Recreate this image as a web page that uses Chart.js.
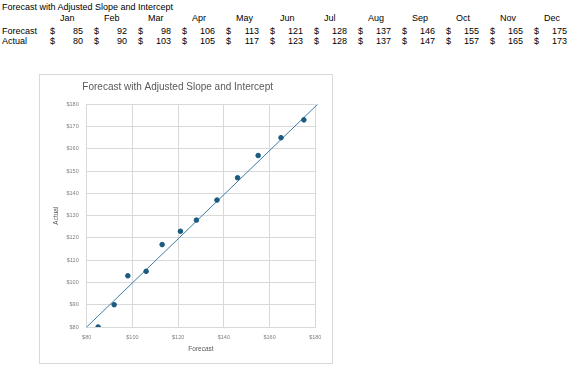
<!DOCTYPE html>
<html>
<head>
<meta charset="utf-8">
<script src="https://cdn.jsdelivr.net/npm/chart.js@4"></script>
<style>
  body { margin: 0; background: #fff; font-family: "Liberation Sans", Arial, sans-serif; }
  #sheet { position: absolute; left: 0; top: 0; width: 575px; height: 60px; font-size: 9px; color: #000; }
  #sheet span { position: absolute; line-height: 10px; white-space: nowrap; }
  #box { position: absolute; left: 39px; top: 74px; width: 292px; height: 288px; border: 1px solid #d9d9d9; }
</style>
</head>
<body>
<div id="sheet"></div>
<div id="box"><canvas id="chart" width="292" height="288"></canvas></div>
<script>
const months = ['Jan', 'Feb', 'Mar', 'Apr', 'May', 'Jun', 'Jul', 'Aug', 'Sep', 'Oct', 'Nov', 'Dec'];
const forecast = [85, 92, 98, 106, 113, 121, 128, 137, 146, 155, 165, 175];
const actual = [80, 90, 103, 105, 117, 123, 128, 137, 147, 157, 165, 173];
// adjusted trendline end points (forecast, actual)
const trendX = [80, 181];
const trendY = [80, 180];
const chartTitle = 'Forecast with Adjusted Slope and Intercept';

// spreadsheet block above the chart
const sheet = document.getElementById('sheet');
function cell(text, left, top, align) {
    const s = document.createElement('span');
    s.textContent = text;
    s.style.top = top + 'px';
    if (align === 'right') {
        s.style.right = (575 - left) + 'px';
    } else {
        s.style.left = left + 'px';
    }
    sheet.appendChild(s);
}
cell(chartTitle, 2, 2);
cell('Forecast', 2, 26);
cell('Actual', 2, 36);
months.forEach((m, i) => {
    const x = 44 * i;
    cell(m, 60 + x, 13);
    cell('$', 50 + x, 26);
    cell(String(forecast[i]), 83 + x, 26, 'right');
    cell('$', 50 + x, 36);
    cell(String(actual[i]), 83 + x, 36, 'right');
});

const money = v => '$' + v;
const tickColor = '#7f7f7f';
const gridColor = '#d9d9d9';

new Chart(document.getElementById('chart'), {
    type: 'scatter',
    data: {
        datasets: [{
            label: 'Actual',
            data: forecast.map((f, i) => ({ x: f, y: actual[i] })),
            backgroundColor: '#1b5b80',
            borderColor: '#1b5b80',
            pointRadius: 2.3,
            pointHoverRadius: 2.3
        }, {
            label: 'Trend',
            type: 'line',
            data: trendX.map((x, i) => ({ x: x, y: trendY[i] })),
            borderColor: '#3d7ca3',
            borderWidth: 1,
            pointRadius: 0,
            clip: false,
            fill: false
        }]
    },
    options: {
        responsive: false,
        animation: false,
        events: [],
        layout: { padding: { right: 16.7, top: 0, left: 0, bottom: 0 } },
        plugins: {
            legend: { display: false },
            tooltip: { enabled: false },
            title: {
                display: true,
                text: chartTitle,
                color: '#595959',
                font: { family: 'Liberation Sans', size: 10, weight: 'normal' },
                padding: { top: 6.5, bottom: 10.8 }
            }
        },
        scales: {
            x: {
                type: 'linear',
                min: 80,
                max: 180,
                ticks: {
                    stepSize: 20,
                    callback: money,
                    color: tickColor,
                    font: { family: 'Liberation Sans', size: 5.5 },
                    padding: 7,
                    maxRotation: 0
                },
                grid: { color: gridColor, drawTicks: false },
                border: { color: gridColor },
                title: {
                    display: true,
                    text: 'Forecast',
                    color: '#595959',
                    font: { family: 'Liberation Sans', size: 6.5 },
                    padding: { top: 0, bottom: 10 }
                },
                afterFit: s => { s.height = 36; }
            },
            y: {
                type: 'linear',
                min: 80,
                max: 180,
                ticks: {
                    stepSize: 10,
                    callback: money,
                    color: tickColor,
                    font: { family: 'Liberation Sans', size: 5.5 },
                    padding: 8
                },
                grid: { color: gridColor, drawTicks: false },
                border: { color: gridColor },
                title: {
                    display: true,
                    text: 'Actual',
                    color: '#595959',
                    font: { family: 'Liberation Sans', size: 6.5 },
                    padding: { top: 12, bottom: 0 }
                },
                afterFit: s => { s.width = 46.7; }
            }
        }
    }
});
</script>
</body>
</html>
